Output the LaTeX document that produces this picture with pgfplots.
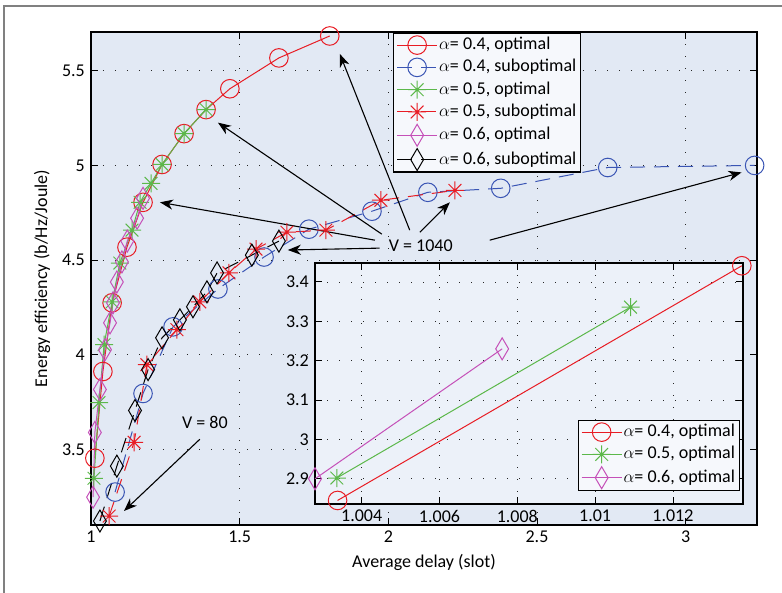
\documentclass[border=0pt]{standalone}
\usepackage{fontspec}
\setmainfont{Carlito}
\usepackage{pgfplots}
\pgfplotsset{compat=1.18}
\usetikzlibrary{arrows.meta}

\definecolor{cred}{RGB}{232,28,36}
\definecolor{cblue}{RGB}{58,85,180}
\definecolor{cgreen}{RGB}{92,184,74}
\definecolor{cmag}{RGB}{197,80,184}
\definecolor{cbg}{RGB}{226,233,244}
\definecolor{cbg2}{RGB}{236,241,249}
\definecolor{cleg}{RGB}{246,248,252}

% matlab style 8-arm asterisk
\pgfdeclareplotmark{ast8}{%
  \pgfpathmoveto{\pgfpoint{0pt}{\pgfplotmarksize}}%
  \pgfpathlineto{\pgfpoint{0pt}{-\pgfplotmarksize}}%
  \pgfpathmoveto{\pgfpoint{\pgfplotmarksize}{0pt}}%
  \pgfpathlineto{\pgfpoint{-\pgfplotmarksize}{0pt}}%
  \pgfpathmoveto{\pgfpoint{.707\pgfplotmarksize}{.707\pgfplotmarksize}}%
  \pgfpathlineto{\pgfpoint{-.707\pgfplotmarksize}{-.707\pgfplotmarksize}}%
  \pgfpathmoveto{\pgfpoint{.707\pgfplotmarksize}{-.707\pgfplotmarksize}}%
  \pgfpathlineto{\pgfpoint{-.707\pgfplotmarksize}{.707\pgfplotmarksize}}%
  \pgfusepathqstroke}

\pgfplotsset{
  mlab/.style={
    tick align=inside, tick pos=both,
    major tick length=7bp,
    every tick/.style={black, line width=0.9bp},
    axis line style={line width=1.4bp},
    grid=major,
    major grid style={black!85, line width=0.8bp, dash pattern=on 1bp off 11bp},
    tick label style={/pgf/number format/assume math mode=true},
    scaled x ticks=false, scaled y ticks=false,
    legend cell align=left,
    legend style={fill=cleg, draw=black, line width=1.2bp, inner xsep=3bp, inner ysep=1.5bp,
      nodes={inner sep=1.5bp, text height=13bp, text depth=4bp}, row sep=2.3bp},
    legend image code/.code={\draw[mark repeat=2,mark phase=2]
      plot coordinates {(0bp,0bp) (20bp,0bp) (40bp,0bp)};},
  },
  lin/.style={line width=1bp, mark options={solid, line width=1bp, fill=none}},
  sub/.style={lin, dash pattern=on 15bp off 9bp},
  mo/.style={mark=o, mark size=9.3bp},
  ms/.style={mark=ast8, mark size=9bp},
  md/.style={mark=diamond, mark size=11bp, mark options={solid, xscale=0.78, line width=1bp, fill=none}},
}

\tikzset{ann/.style={black, line width=1.1bp, -{Stealth[length=13bp, width=10bp, inset=4bp]}}}

\begin{document}
\fontsize{18bp}{21bp}\selectfont
\begin{tikzpicture}
\useasboundingbox (-91bp,-68bp) rectangle (691bp,525bp);
\draw[black!50, line width=1.6bp] (-87bp,-68bp) -- (-87bp,519bp) -- (691bp,519bp);

\begin{axis}[
  mlab,
  at={(0bp,0bp)}, anchor=south west,
  width=666bp, height=493bp, scale only axis,
  xmin=1, xmax=3.24, ymin=3.1, ymax=5.705,
  xtick={1,1.5,2,2.5,3}, ytick={3.5,4,4.5,5,5.5},
  axis background/.style={fill=cbg},
  clip=false,
  xlabel={Average delay (slot)},
  ylabel={Energy efficiency (b/Hz/Joule)},
  xlabel style={at={(axis description cs:0.5,-0.075)}, anchor=center},
  ylabel style={at={(axis description cs:-0.0736,0.5)}, anchor=center},
  legend style={at={(axis description cs:0.4535,0.998)}, anchor=north west},
]
% alpha = 0.4, optimal
\addplot[cred, lin, mo] coordinates {
  (1.013,3.453) (1.040,3.911) (1.071,4.274) (1.121,4.568) (1.175,4.805) (1.239,5.005)
  (1.313,5.168) (1.387,5.295) (1.467,5.405) (1.632,5.568) (1.803,5.684)};
\addlegendentry{$\alpha$= 0.4, optimal}
% alpha = 0.4, suboptimal
\addplot[cblue, sub, mo] coordinates {
  (1.081,3.274) (1.175,3.795) (1.276,4.147) (1.427,4.347) (1.582,4.516) (1.733,4.663)
  (1.945,4.758) (2.133,4.858) (2.378,4.879) (2.738,4.989) (3.232,5.000)};
\addlegendentry{$\alpha$= 0.4, suboptimal}
% alpha = 0.5, optimal
\addplot[cgreen, lin, ms] coordinates {
  (1.010,3.347) (1.027,3.747) (1.044,4.053) (1.071,4.279) (1.097,4.484) (1.138,4.658)
  (1.165,4.805) (1.202,4.905) (1.239,5.005) (1.313,5.168) (1.387,5.295)};
\addlegendentry{$\alpha$= 0.5, optimal}
% alpha = 0.5, suboptimal
\addplot[cred, sub, ms] coordinates {
  (1.061,3.147) (1.145,3.537) (1.188,3.947) (1.289,4.132) (1.366,4.279) (1.464,4.432)
  (1.555,4.558) (1.659,4.647) (1.790,4.658) (1.975,4.816) (2.224,4.868)};
\addlegendentry{$\alpha$= 0.5, suboptimal}
% alpha = 0.6, optimal
\addplot[cmag, lin, md] coordinates {
  (1.007,3.247) (1.013,3.589) (1.030,3.816) (1.047,4.026) (1.064,4.168) (1.074,4.274)
  (1.087,4.384) (1.104,4.490) (1.122,4.600) (1.155,4.721) (1.175,4.826)};
\addlegendentry{$\alpha$= 0.6, optimal}
% alpha = 0.6, suboptimal
\addplot[black, sub, md] coordinates {
  (1.030,3.121) (1.087,3.411) (1.148,3.705) (1.192,3.921) (1.239,4.089) (1.299,4.184)
  (1.343,4.253) (1.390,4.332) (1.424,4.432) (1.541,4.526) (1.632,4.600)};
\addlegendentry{$\alpha$= 0.6, suboptimal}

% annotations
\node at (axis cs:2.109,4.574) {V = 1040};
\draw[ann] (axis cs:2.072,4.658) -- (axis cs:1.837,5.589);
\draw[ann] (axis cs:1.978,4.637) -- (axis cs:1.427,5.226);
\draw[ann] (axis cs:1.955,4.605) -- (axis cs:1.232,4.805);
\draw[ann] (axis cs:1.971,4.563) -- (axis cs:1.662,4.553);
\draw[ann] (axis cs:2.106,4.647) -- (axis cs:2.207,4.805);
\draw[ann] (axis cs:2.341,4.605) -- (axis cs:3.188,4.963);
\node at (axis cs:1.383,3.642) {V = 80};
\draw[ann] (axis cs:1.366,3.553) -- (axis cs:1.111,3.174);
\end{axis}

\begin{axis}[
  mlab,
  at={(224bp,21bp)}, anchor=south west,
  width=428bp, height=241bp, scale only axis,
  xmin=1.0028, xmax=1.0138, ymin=2.836, ymax=3.448,
  xtick={1.004,1.006,1.008,1.01,1.012},
  xticklabels={1.004,1.006,1.008,1.01,1.012},
  ytick={2.9,3.0,3.1,3.2,3.3,3.4},
  yticklabels={2.9,3,3.1,3.2,3.3,3.4},
  axis background/.style={fill=cbg2},
  clip=false,
  legend style={at={(axis description cs:0.993,0.3485)}, anchor=north east},
]
\addplot[cred, lin, mo] coordinates {(1.00338,2.845) (1.01377,3.441)};
\addlegendentry{$\alpha$= 0.4, optimal}
\addplot[cgreen, lin, ms] coordinates {(1.00336,2.902) (1.01091,3.336)};
\addlegendentry{$\alpha$= 0.5, optimal}
\addplot[cmag, lin, md] coordinates {(1.0028,2.900) (1.00761,3.230)};
\addlegendentry{$\alpha$= 0.6, optimal}
\end{axis}
\end{tikzpicture}
\end{document}
